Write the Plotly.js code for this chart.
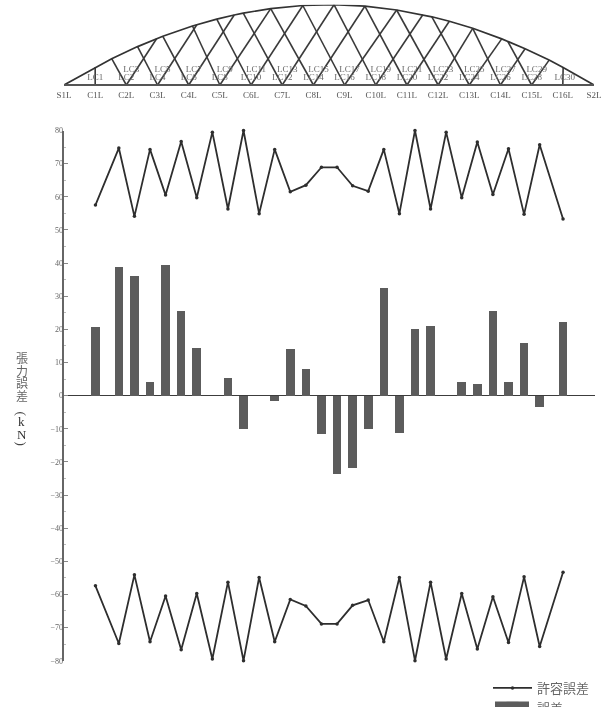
<!DOCTYPE html>
<html>
<head>
<meta charset="utf-8">
<script src="https://cdn.plot.ly/plotly-3.0.1.min.js"></script>
<style>html,body{margin:0;padding:0;background:#fff;overflow:hidden}#chart{width:612px;height:707px;will-change:transform}</style>
</head>
<body>
<div id="chart"></div>
<script>
// Cable labels and their positions along the span
const cableLabels = ["LC1","LC2","LC3","LC4","LC5","LC6","LC7","LC8","LC9","LC10","LC11","LC12","LC13","LC14","LC15","LC16","LC17","LC18","LC19","LC20","LC21","LC22","LC23","LC24","LC25","LC26","LC27","LC28","LC29","LC30"];
const cablePos = [0,1.5,2.5,3.5,4.5,5.5,6.5,7.5,8.5,9.5,10.5,11.5,12.5,13.5,14.5,15.5,16.5,17.5,18.5,19.5,20.5,21.5,22.5,23.5,24.5,25.5,26.5,27.5,28.5,30];
// Allowable error, upper and lower limits (kN)
const allowUpper = [57.5,74.7,54.1,74.3,60.5,76.7,59.7,79.5,56.3,80,54.9,74.3,61.5,63.5,68.9,68.9,63.3,61.7,74.3,54.9,80,56.3,79.5,59.7,76.5,60.7,74.5,54.7,75.7,53.3];
const allowLower = [-57.4,-74.8,-54.1,-74.3,-60.5,-76.7,-59.7,-79.5,-56.3,-80,-54.9,-74.3,-61.5,-63.5,-68.9,-68.9,-63.3,-61.7,-74.3,-54.9,-80,-56.3,-79.5,-59.7,-76.5,-60.7,-74.5,-54.7,-75.7,-53.3];
// Tension error (kN)
const tensionError = [20.7,38.7,36.2,4.0,39.3,25.5,14.4,null,5.2,-10.2,null,-1.7,14.1,8.0,-11.7,-23.7,-21.8,-10.2,32.5,-11.3,20.1,20.9,null,4.0,3.6,25.5,4.2,15.8,-3.4,22.2];
// Bridge elevation: panel index along the deck, rise of the arch
const nodeLabels = ["S1L","C1L","C2L","C3L","C4L","C5L","C6L","C7L","C8L","C9L","C10L","C11L","C12L","C13L","C14L","C15L","C16L","S2L"];
const nodeIndex = [0,1,2,3,4,5,6,7,8,9,10,11,12,13,14,15,16,17];
const archX = [0,1,1.53,2.36,2.97,3.17,4.12,4.26,4.9,5.46,5.75,6.63,7.66,8.66,9.65,10.67,11.51,11.8,12.36,13.11,14.04,14.23,14.79,15.56,16.01,17];
const archRise = [0,17.7,26.3,38.4,46.3,48.7,59,60.3,65.9,70,71.9,76.4,79.5,80.3,78.8,75,70.2,68.2,63.7,56.7,46.1,43.8,36.3,24.9,17.6,0];
const cableDeck = [1,2,2,3,3,4,4,5,5,6,6,7,7,8,8,9,9,10,10,11,11,12,12,13,13,14,14,15,15,16];
const cableTopX = [1,1.53,2.97,2.36,4.26,3.17,5.46,4.12,6.63,4.9,7.66,5.75,8.66,6.63,9.65,7.66,10.67,8.66,11.51,9.65,12.36,10.67,13.11,11.8,14.04,13.11,14.79,14.23,15.56,16.01];
const cableTopRise = [17.7,26.3,46.3,38.4,60.3,48.7,70,59,76.4,65.9,79.5,71.9,80.3,76.4,78.8,79.5,75,80.3,70.2,78.8,63.7,75,56.7,68.2,46.1,56.7,36.3,43.8,24.9,17.6];
// Text
const yTitleChars = ["張","力","誤","差"];
const yTitleUnit = ["k","N"];
const legendLine = "許容誤差";
const legendBar = "誤差";

const W = 612, H = 707;
const serif = "Liberation Serif, serif";
const cjk = "Noto Sans CJK JP, sans-serif";
const px = v => v / W, py = v => 1 - v / H;

const cableX = [], cableY = [];
cableDeck.forEach((d, i) => { cableX.push(d, cableTopX[i], null); cableY.push(0, cableTopRise[i], null); });
const evenIdx = cableLabels.map((_, i) => i).filter(i => i % 2 === 1 || i === 0);
const oddIdx = cableLabels.map((_, i) => i).filter(i => i % 2 === 0 && i !== 0);

const traces = [
  {type:"bar", x:cablePos, y:tensionError, width:0.55, marker:{color:"#5c5c5c"}, name:legendBar, legendrank:2, hoverinfo:"y"},
  {type:"scatter", mode:"lines+markers", x:cablePos, y:allowUpper, name:legendLine, legendrank:1, cliponaxis:false,
   line:{color:"#2e2e2e", width:1.8}, marker:{color:"#2e2e2e", size:3.5}},
  {type:"scatter", mode:"lines+markers", x:cablePos, y:allowLower, showlegend:false, cliponaxis:false,
   line:{color:"#2e2e2e", width:1.8}, marker:{color:"#2e2e2e", size:3.5}},
  {type:"scatter", mode:"lines", xaxis:"x2", yaxis:"y2", x:cableX, y:cableY, showlegend:false, cliponaxis:false, hoverinfo:"skip",
   line:{color:"#3a3a3a", width:1.6}},
  {type:"scatter", mode:"lines", xaxis:"x2", yaxis:"y2", x:archX, y:archRise, showlegend:false, cliponaxis:false, hoverinfo:"skip",
   line:{color:"#333", width:1.7}},
  {type:"scatter", mode:"lines", xaxis:"x2", yaxis:"y2", x:[nodeIndex[0], nodeIndex[17]], y:[0,0], showlegend:false, cliponaxis:false, hoverinfo:"skip",
   line:{color:"#555", width:2}},
  {type:"scatter", mode:"text", xaxis:"x2", yaxis:"y2", x:nodeIndex, y:nodeIndex.map(() => -10.5), text:nodeLabels, showlegend:false, cliponaxis:false, hoverinfo:"skip",
   textposition:"middle center", textfont:{family:serif, size:9, color:"#555"}},
  {type:"scatter", mode:"text", xaxis:"x2", yaxis:"y2", x:evenIdx.map(i => cableDeck[i] + (i === 29 ? 0.06 : 0)), y:evenIdx.map(() => 7.5), text:evenIdx.map(i => cableLabels[i]), showlegend:false, cliponaxis:false, hoverinfo:"skip",
   textposition:"middle center", textfont:{family:serif, size:9, color:"#6a6a6a"}},
  {type:"scatter", mode:"text", xaxis:"x2", yaxis:"y2", x:oddIdx.map(i => cableDeck[i] + 0.16), y:oddIdx.map(() => 15), text:oddIdx.map(i => cableLabels[i]), showlegend:false, cliponaxis:false, hoverinfo:"skip",
   textposition:"middle center", textfont:{family:serif, size:9, color:"#6a6a6a"}}
];

const titleAnn = [];
yTitleChars.forEach((c, i) => titleAnn.push({xref:"paper", yref:"paper", x:px(21.5), y:py(357.5 + i * 12.5), text:c, showarrow:false,
  xanchor:"center", yanchor:"middle", font:{family:cjk, size:12, color:"#666"}}));
[["(", 413], [")", 443]].forEach(p => titleAnn.push({xref:"paper", yref:"paper", x:px(21.5), y:py(p[1]), text:p[0], textangle:90, showarrow:false,
  xanchor:"center", yanchor:"middle", font:{family:serif, size:13, color:"#444"}}));
yTitleUnit.forEach((c, i) => titleAnn.push({xref:"paper", yref:"paper", x:px(21.5), y:py(422 + i * 12), text:c, showarrow:false,
  xanchor:"center", yanchor:"middle", font:{family:serif, size:13, color:"#333"}}));

const layout = {
  width:W, height:H, margin:{l:0, r:0, t:0, b:0, autoexpand:false}, paper_bgcolor:"#fff", plot_bgcolor:"#fff", font:{family:serif},
  bargap:0, barmode:"overlay",
  xaxis:{domain:[px(63.5), px(595)], range:[-2.05, 32.05], visible:true, showgrid:false, zeroline:false, showline:false, showticklabels:false, ticks:"", anchor:"y"},
  yaxis:{domain:[py(660.7), py(130.5)], range:[-80, 80], dtick:10, tick0:0, showgrid:false, zeroline:true, zerolinecolor:"#3c3c3c", zerolinewidth:1.5,
    showline:true, linecolor:"#666", linewidth:2, ticks:"inside", ticklen:4, tickcolor:"#888", tickwidth:1,
    minor:{dtick:5, ticks:"inside", ticklen:2, tickcolor:"#bbb", showgrid:false},
    tickfont:{family:serif, size:8, color:"#666"}, ticklabelstandoff:-3, anchor:"x"},
  xaxis2:{domain:[px(64), px(594)], range:[0,17], visible:false, anchor:"y2"},
  yaxis2:{domain:[py(100), py(4.7)], range:[-15,80.3], visible:false, anchor:"x2"},
  showlegend:true,
  legend:{x:px(488), y:py(673), xanchor:"left", yanchor:"top", orientation:"v", itemwidth:39, bgcolor:"rgba(0,0,0,0)", borderwidth:0,
    traceorder:"normal", font:{family:cjk, size:13, color:"#666"}, itemclick:false, itemdoubleclick:false},
  annotations:titleAnn,
  shapes:[{type:"rect", xref:"paper", yref:"paper", layer:"above", x0:px(495), x1:px(529), y0:py(707), y1:py(701.5), fillcolor:"#5c5c5c", line:{width:0}}]
};
Plotly.newPlot("chart", traces, layout, {displayModeBar:false, staticPlot:true});
</script>
</body>
</html>
